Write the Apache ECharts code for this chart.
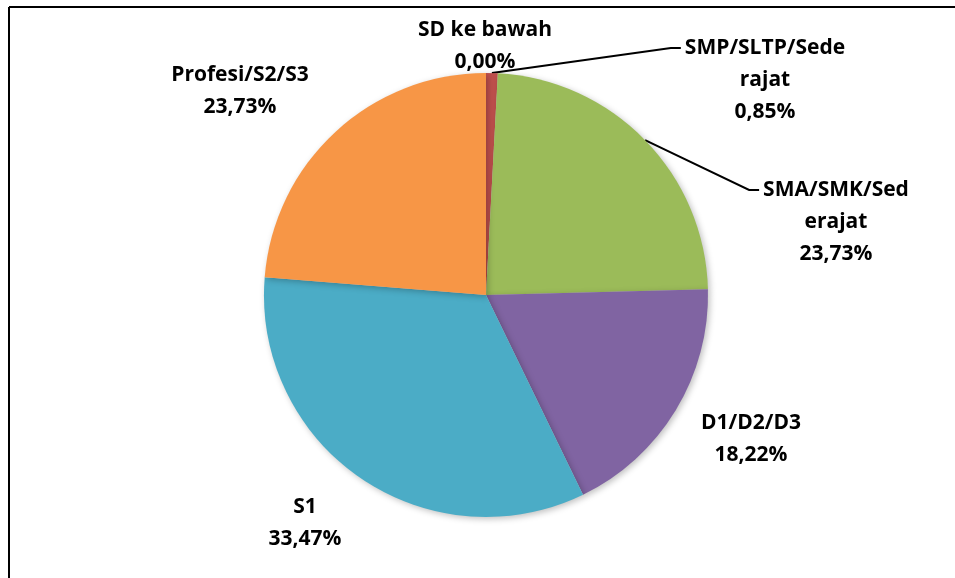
<!DOCTYPE html>
<html>
<head>
<meta charset="utf-8">
<script src="https://cdn.jsdelivr.net/npm/echarts@6/dist/echarts.min.js"></script>
<style>
  html, body { margin: 0; padding: 0; background: #fff; }
  #chart { width: 955px; height: 578px; }
</style>
</head>
<body>
<div id="chart"></div>
<script>
// kategori pendidikan, urutan searah jarum jam dari atas
var categories = ['SD ke bawah', 'SMP/SLTP/Sederajat', 'SMA/SMK/Sederajat', 'D1/D2/D3', 'S1', 'Profesi/S2/S3'];
var labelNames = ['SD ke bawah', 'SMP/SLTP/Sede\nrajat', 'SMA/SMK/Sed\nerajat', 'D1/D2/D3', 'S1', 'Profesi/S2/S3'];
var percentages = [0.00, 0.85, 23.73, 18.22, 33.47, 23.73];
var colors = ['#4F81BD', '#C0504D', '#9BBB59', '#8064A2', '#4BACC6', '#F79646'];

// posisi label (tengah atas teks), seperti di gambar asli
var labelPos = [
  [485, 14],
  [765, 32],
  [836, 174],
  [751, 407],
  [305, 491],
  [240, 59]
];
var hasLine = [false, true, true, false, false, false];

var chart = echarts.init(document.getElementById('chart'));

var pieData = categories.map(function (name, i) {
  return {
    name: name,
    value: percentages[i],
    itemStyle: { color: colors[i] },
    labelLine: { show: hasLine[i] }
  };
});

var option = {
  backgroundColor: '#fff',
  animation: false,
  graphic: [
    { type: 'line', shape: { x1: 9, y1: 7, x2: 955, y2: 7 }, style: { stroke: '#000', lineWidth: 2 } },
    { type: 'line', shape: { x1: 9, y1: 7, x2: 9, y2: 578 }, style: { stroke: '#000', lineWidth: 2 } }
  ],
  series: [{
    type: 'pie',
    center: [486, 295],
    radius: 222,
    startAngle: 90,
    clockwise: true,
    minShowLabelAngle: -1,
    stillShowZeroSum: true,
    avoidLabelOverlap: false,
    data: pieData,
    itemStyle: {
      shadowBlur: 6,
      shadowColor: 'rgba(0,0,0,0.25)',
      shadowOffsetX: 2,
      shadowOffsetY: 2
    },
    label: {
      show: true,
      position: 'outside',
      color: '#000',
      fontFamily: 'Open Sans',
      fontWeight: 'bold',
      fontSize: 21,
      lineHeight: 32,
      align: 'center',
      formatter: function (p) {
        return labelNames[p.dataIndex] + '\n' + p.value.toFixed(2).replace('.', ',') + '%';
      }
    },
    labelLine: {
      lineStyle: { color: '#000', width: 2 },
      length: 10,
      length2: 10
    },
    labelLayout: function (p) {
      var i = p.dataIndex;
      var pos = labelPos[i];
      var res = {
        x: pos[0],
        y: pos[1],
        align: 'center',
        verticalAlign: 'top'
      };
      if (hasLine[i] && p.labelLinePoints) {
        // garis penunjuk berakhir di sebelah kiri baris pertama label
        var start = p.labelLinePoints[0];
        var endX = pos[0] - p.labelRect.width / 2 - 4;
        var endY = pos[1] + 16;
        res.labelLinePoints = [start, [endX - 10, endY], [endX, endY]];
      }
      return res;
    }
  }]
};

chart.setOption(option);
</script>
</body>
</html>
